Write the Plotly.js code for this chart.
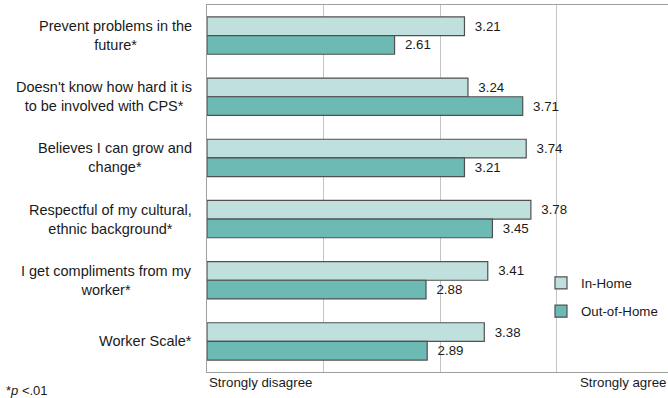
<!DOCTYPE html>
<html>
<head>
<meta charset="utf-8">
<script src="https://cdn.plot.ly/plotly-3.0.1.min.js"></script>
<style>html,body{margin:0;padding:0;background:#fff;}#chart{width:668px;height:398px;}</style>
</head>
<body>
<div id="chart"></div>
<script>
const categories = [
  "Prevent problems in the<br>future*",
  "Doesn't know how hard it is<br>to be involved with CPS*",
  "Believes I can grow and<br>change*",
  "Respectful of my cultural,<br>ethnic background*",
  "I get compliments from my<br>worker*",
  "Worker Scale*"
];
const inHome = [3.21, 3.24, 3.74, 3.78, 3.41, 3.38];
const outOfHome = [2.61, 3.71, 3.21, 3.45, 2.88, 2.89];
const seriesNames = ["In-Home", "Out-of-Home"];
const seriesColors = ["#c0e0de", "#6dbab4"];
const axisEndLabels = ["Strongly disagree", "Strongly agree"];
const footnote = "*<i>p</i> <.01";
const scaleMin = 1;

const FONT = "Liberation Sans, Arial, sans-serif";
const FS = 13.3;
const TXT = "#1a1a1a";
const EDGE = "#505050";

function barTrace(name, vals, color, grp) {
  return {
    type: "bar", orientation: "h", name: name, legendgroup: grp,
    y: categories, x: vals.map(v => v - scaleMin), base: scaleMin,
    text: vals.map(v => "  " + v.toFixed(2)),
    textposition: "outside", cliponaxis: false,
    textfont: {family: FONT, size: FS, color: TXT},
    marker: {color: color, line: {color: EDGE, width: 1.2}},
    hoverinfo: "none"
  };
}

const traces = [
  barTrace(seriesNames[0], inHome, seriesColors[0], "a"),
  barTrace(seriesNames[1], outOfHome, seriesColors[1], "b")
];

const annotations = categories.map(c => ({
  xref: "paper", yref: "y", x: 0, y: c, xanchor: "right", yanchor: "middle",
  xshift: -13, text: c, align: "center", showarrow: false,
  font: {family: FONT, size: 14.5, color: TXT}
}));
annotations.push({
  xref: "paper", yref: "paper", x: 0, y: 0, xanchor: "left", yanchor: "top",
  yshift: -1, text: axisEndLabels[0], showarrow: false,
  font: {family: FONT, size: FS, color: TXT}
});
annotations.push({
  xref: "paper", yref: "paper", x: 1, y: 0, xanchor: "right", yanchor: "top",
  xshift: 0, yshift: -1, text: axisEndLabels[1], showarrow: false,
  font: {family: FONT, size: FS, color: TXT}
});
annotations.push({
  xref: "paper", yref: "paper", x: 0, y: 0, xanchor: "left", yanchor: "top",
  xshift: -203, yshift: -9, text: footnote, showarrow: false,
  font: {family: FONT, size: 13, color: TXT}
});

const layout = {
  width: 668, height: 398,
  margin: {l: 207, r: 0, t: 5, b: 26, pad: 0},
  paper_bgcolor: "#fff", plot_bgcolor: "#fff",
  font: {family: FONT, size: FS, color: TXT},
  barmode: "group", bargap: 0.39, bargroupgap: 0,
  showlegend: true,
  legend: {
    x: 0.7245, y: 0.284, xanchor: "left", yanchor: "top",
    traceorder: "grouped", tracegroupgap: 8,
    font: {family: FONT, size: FS, color: TXT},
    bgcolor: "rgba(0,0,0,0)"
  },
  xaxis: {
    range: [scaleMin, 4.957], tickvals: [2, 3, 4], showticklabels: false,
    showgrid: true, gridcolor: "#c4c4c4", gridwidth: 1,
    zeroline: false, showline: true, mirror: true, linecolor: "#a0a0a0", linewidth: 1,
    ticks: "", fixedrange: true
  },
  yaxis: {
    type: "category", autorange: "reversed", showticklabels: false,
    showgrid: false, zeroline: false, showline: true, linecolor: "#a0a0a0", linewidth: 1,
    ticks: "", fixedrange: true
  },
  annotations: annotations
};

Plotly.newPlot("chart", traces, layout, {displayModeBar: false, staticPlot: true});
</script>
</body>
</html>
